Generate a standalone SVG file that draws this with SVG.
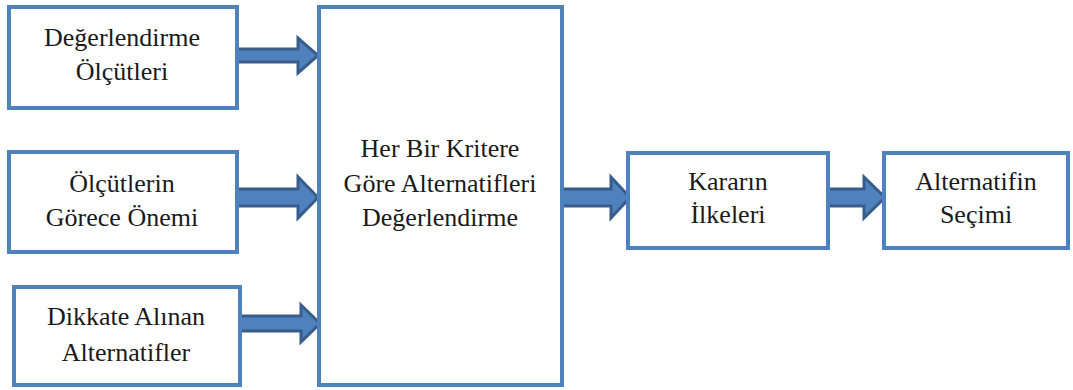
<svg xmlns="http://www.w3.org/2000/svg" width="1073" height="390" viewBox="0 0 1073 390">
<style>
.box{fill:#fff;stroke:#4f81bd;stroke-width:4}
.arr{fill:#4f81bd;stroke:#385d8a;stroke-width:3;stroke-linejoin:miter}
.t{font-size:26px;fill:#1a1a1a;text-anchor:middle}
</style>
<rect width="1073" height="390" fill="#fff"/>
<g id="connectors">
<path class="arr" d="M237,49 H298 V38 L318,55.5 L298,73 V62 H237 Z"/>
<path class="arr" d="M237,189 H298 V177 L318,197.5 L298,218 V206 H237 Z"/>
<path class="arr" d="M240,316 H301 V305 L320,323.5 L301,342 V331 H240 Z"/>
<path class="arr" d="M562,189 H611 V177 L630,197.5 L611,218 V206 H562 Z"/>
<path class="arr" d="M828,189 H864 V177 L885,197.5 L864,218 V206 H828 Z"/>
</g>
<g class="t" font-family="Liberation Serif, serif" style="font-family:'Liberation Serif',serif">
<g id="n1"><rect class="box" x="9" y="7" width="228" height="101"/><text x="122" y="46">Değerlendirme</text><text x="122" y="80">Ölçütleri</text></g>
<g id="n2"><rect class="box" x="9" y="152" width="228" height="100"/><text x="122" y="192">Ölçütlerin</text><text x="122" y="226">Görece Önemi</text></g>
<g id="n3"><rect class="box" x="14" y="287" width="226" height="98"/><text x="126" y="325">Dikkate Alınan</text><text x="126" y="361">Alternatifler</text></g>
<g id="n4"><rect class="box" x="319" y="7" width="243" height="378"/><text x="440" y="157">Her Bir Kritere</text><text x="440" y="192">Göre Alternatifleri</text><text x="440" y="226">Değerlendirme</text></g>
<g id="n5"><rect class="box" x="628" y="153" width="200" height="95"/><text x="728" y="190">Kararın</text><text x="728" y="223">İlkeleri</text></g>
<g id="n6"><rect class="box" x="884" y="153" width="184" height="95"/><text x="976" y="190">Alternatifin</text><text x="976" y="223">Seçimi</text></g>
</g>
</svg>
